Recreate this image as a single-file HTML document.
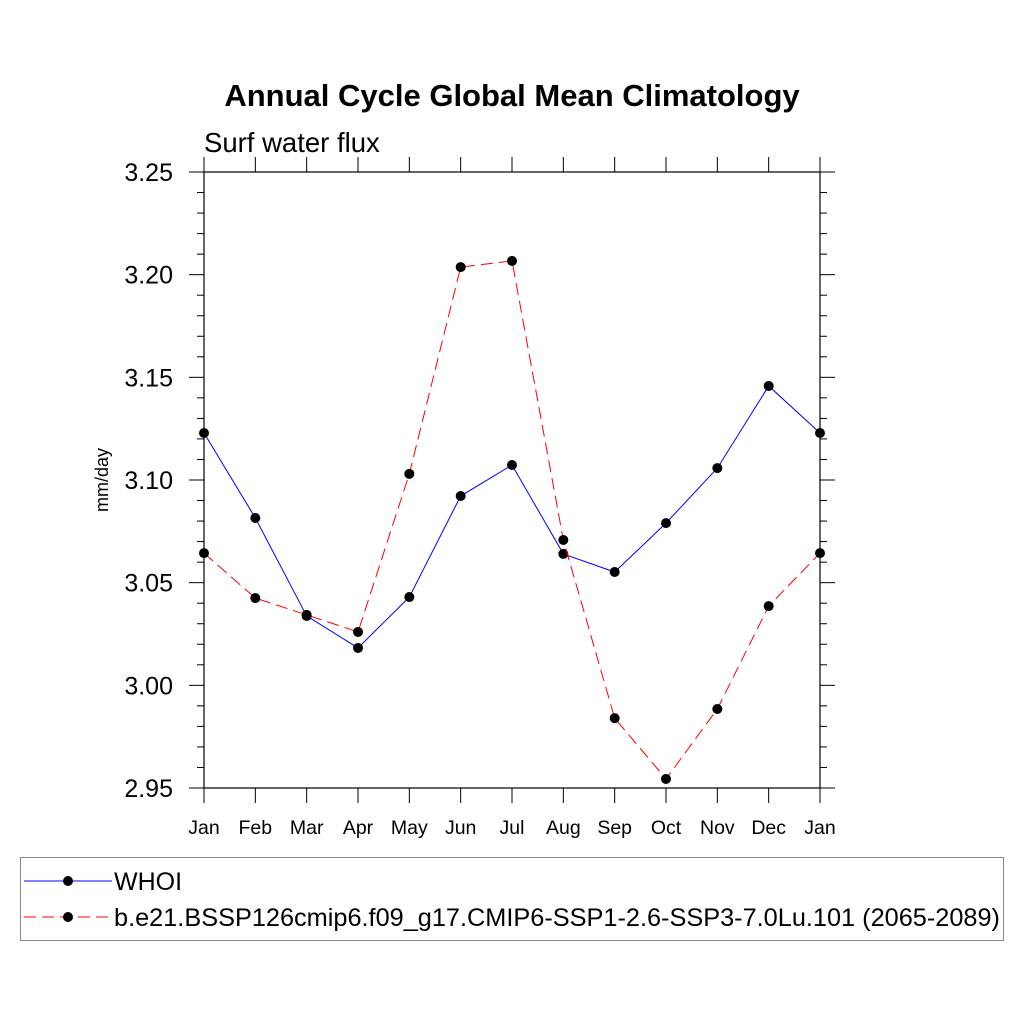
<!DOCTYPE html>
<html><head><meta charset="utf-8"><style>
body{margin:0;background:#fff}
svg{display:block;font-family:"Liberation Sans",sans-serif}
</style></head><body>
<svg id="chart" width="1024" height="1024">
<text x="512" y="106" text-anchor="middle" font-size="31" font-weight="bold">Annual Cycle Global Mean Climatology</text>
<text x="204" y="152" font-size="27.5">Surf water flux</text>
<text transform="translate(108,480) rotate(-90)" text-anchor="middle" font-size="18">mm/day</text>
<g id="axes"></g>
<g id="series"></g>
<g>
<rect x="20.5" y="857.5" width="983" height="83" fill="none" stroke="#888"/>
<g>
<line x1="24" y1="881" x2="112" y2="881" stroke="#00f" stroke-width="1"/>
<circle cx="68" cy="881" r="5" fill="#000"/>
<text x="114" y="890" font-size="25">WHOI</text></g>
<g>
<line x1="24" y1="917" x2="112" y2="917" stroke="#f00" stroke-width="1" stroke-dasharray="12,6"/>
<circle cx="68" cy="917" r="5" fill="#000"/>
<text x="114" y="926" font-size="25" textLength="886" lengthAdjust="spacingAndGlyphs">b.e21.BSSP126cmip6.f09_g17.CMIP6-SSP1-2.6-SSP3-7.0Lu.101 (2065-2089)</text></g>
</g>
</svg>
<script>
const months=["Jan","Feb","Mar","Apr","May","Jun","Jul","Aug","Sep","Oct","Nov","Dec","Jan"];
const yTicks=[2.95,3.00,3.05,3.10,3.15,3.20,3.25];
const yTickLabels=["2.95","3.00","3.05","3.10","3.15","3.20","3.25"];
const whoi=[3.1229,3.0815,3.0338,3.0182,3.043,3.0922,3.1073,3.064,3.0552,3.079,3.1058,3.1458,3.1229];
const model=[3.0644,3.0425,3.0343,3.026,3.103,3.2037,3.2067,3.0708,2.984,2.9544,2.9885,3.0386,3.0644];
const L=204,R=820,T=172,B=788,ymin=2.95,ymax=3.25;
const NS="http://www.w3.org/2000/svg";
function xs(i){return L+(R-L)*i/(months.length-1);}
function ys(v){return B-(v-ymin)/(ymax-ymin)*(B-T);}
function mk(tag,at,parent){const e=document.createElementNS(NS,tag);for(const k in at)e.setAttribute(k,at[k]);parent.appendChild(e);return e;}
const ax=document.getElementById('axes');
const fr=mk('rect',{x:L,y:T,width:R-L,height:B-T,fill:'none',stroke:'#000','stroke-width':1.2},ax);


months.forEach((m,i)=>{const x=xs(i);
mk('line',{x1:x,y1:B,x2:x,y2:B+15,stroke:'#000'},ax);
mk('line',{x1:x,y1:T,x2:x,y2:T-15,stroke:'#000'},ax);
const t=mk('text',{x:x,y:B+46,'text-anchor':'middle','font-size':19.5},ax);t.textContent=m;

});
for(let k=0;k<=30;k++){const v=ymin+k*0.01,y=ys(v),maj=k%5==0,l=maj?15:7;
mk('line',{x1:L,y1:y,x2:L-l,y2:y,stroke:'#000'},ax);
mk('line',{x1:R,y1:y,x2:R+l,y2:y,stroke:'#000'},ax);}
yTicks.forEach((v,i)=>{const t=mk('text',{x:173,y:ys(v)+9,'text-anchor':'end','font-size':25},ax);t.textContent=yTickLabels[i];

});
const sg=document.getElementById('series');
function draw(data,color,dash,name){
const g=mk('g',{},sg);


mk('polyline',{points:data.map((v,i)=>xs(i)+','+ys(v)).join(' '),fill:'none',stroke:color,'stroke-width':1,'stroke-dasharray':dash},g);
data.forEach((v,i)=>{const c=mk('circle',{cx:xs(i),cy:ys(v),r:5,fill:'#000'},g);

});}
draw(whoi,'#00f','none','whoi-series');
draw(model,'#f00','12,6','model-series');
</script>
</body></html>
